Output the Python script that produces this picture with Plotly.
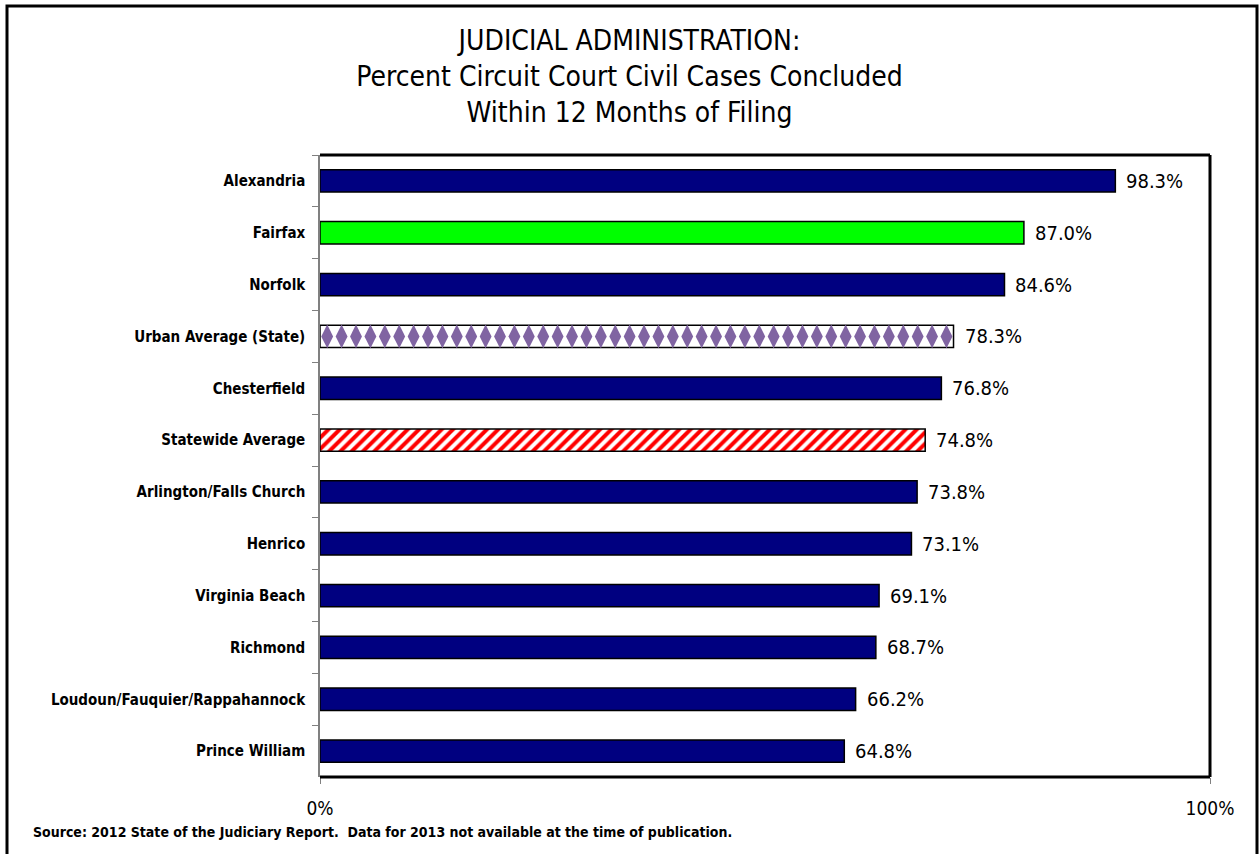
import numpy as np
import plotly.graph_objects as go

categories = ["Alexandria", "Fairfax", "Norfolk", "Urban Average (State)", "Chesterfield",
              "Statewide Average", "Arlington/Falls Church", "Henrico", "Virginia Beach",
              "Richmond", "Loudoun/Fauquier/Rappahannock", "Prince William"]
values = [98.3, 87.0, 84.6, 78.3, 76.8, 74.8, 73.8, 73.1, 69.1, 68.7, 66.2, 64.8]
value_labels = ["98.3%", "87.0%", "84.6%", "78.3%", "76.8%", "74.8%", "73.8%", "73.1%",
                "69.1%", "68.7%", "66.2%", "64.8%"]
tick_vals = [0, 110]
tick_text = ["0%", "100%"]

NAVY = "#000080"
GREEN = "#00FF00"
PURPLE = "#8064A2"
RED = "#FF0000"

FONT = "DejaVu Sans Condensed, Liberation Sans Narrow, Arial Narrow, sans-serif"
BAR_W = 0.43
OUTLINE = dict(color="black", width=1.5)

special = {"Fairfax", "Urban Average (State)", "Statewide Average"}
reg_y = [c for c in categories if c not in special]
reg_x = [v for c, v in zip(categories, values) if c not in special]

fig = go.Figure()
fig.add_trace(go.Bar(y=reg_y, x=reg_x, orientation="h", width=BAR_W,
                     marker=dict(color=NAVY, line=OUTLINE),
                     showlegend=False, hoverinfo="skip"))

fi = categories.index("Fairfax")
fig.add_trace(go.Bar(y=[categories[fi]], x=[values[fi]], orientation="h", width=BAR_W,
                     marker=dict(color=GREEN, line=OUTLINE),
                     showlegend=False, hoverinfo="skip"))

si = categories.index("Statewide Average")
fig.add_trace(go.Bar(y=[categories[si]], x=[values[si]], orientation="h", width=BAR_W,
                     marker=dict(color="white", line=OUTLINE,
                                 pattern=dict(shape="/", fgcolor=RED, bgcolor="white",
                                              fillmode="replace", size=8, solidity=0.5)),
                     showlegend=False, hoverinfo="skip"))

ui = categories.index("Urban Average (State)")
fig.add_trace(go.Bar(y=[categories[ui]], x=[values[ui]], orientation="h", width=BAR_W,
                     marker=dict(color="white", line=OUTLINE),
                     showlegend=False, hoverinfo="skip"))
# diamond fill for the urban average bar
step = 1.78
dx = np.arange(step / 2, values[ui] - step / 4, step)
fig.add_trace(go.Scatter(
    x=dx, y=[categories[ui]] * len(dx), mode="markers",
    marker=dict(symbol="diamond-tall", size=17, color=PURPLE, line=dict(width=0)),
    showlegend=False, hoverinfo="skip", cliponaxis=True,
))

for c, v, t in zip(categories, values, value_labels):
    fig.add_annotation(x=v, y=c, text=t, showarrow=False, xanchor="left", xshift=9,
                       font=dict(family=FONT, size=20, color="black"))

shapes = [
    dict(type="line", xref="paper", yref="paper", x0=0, x1=1, y0=1, y1=1,
         line=dict(color="black", width=3)),
    dict(type="line", xref="paper", yref="paper", x0=1, x1=1, y0=0, y1=1,
         line=dict(color="black", width=3)),
    dict(type="line", xref="paper", yref="paper", x0=0, x1=1, y0=0, y1=0,
         line=dict(color="black", width=3)),
    # outer frame
    dict(type="rect", xref="paper", yref="paper",
         x0=(7 - 320) / 890, x1=(1257 - 320) / 890,
         y0=(777 - 870) / 622, y1=(777 - 6) / 622,
         line=dict(color="black", width=3), fillcolor="rgba(0,0,0,0)"),
]

fig.update_layout(
    width=1259, height=854,
    margin=dict(l=320, r=49, t=155, b=77),
    paper_bgcolor="white", plot_bgcolor="white",
    title=dict(
        text="JUDICIAL ADMINISTRATION:<br>Percent Circuit Court Civil Cases Concluded<br>Within 12 Months of Filing",
        x=0.5, xanchor="center", y=0.942, yanchor="top",
        font=dict(family=FONT, size=28, color="black"),
    ),
    shapes=shapes,
    barmode="overlay",
)
fig.update_xaxes(range=[0, 110], tickvals=tick_vals, ticktext=tick_text,
                 showgrid=False, zeroline=False, ticks="outside", ticklen=6,
                 tickcolor="#808080", ticklabelstandoff=8,
                 tickfont=dict(family=FONT, size=19, color="black"),
                 showline=False)
fig.update_yaxes(categoryorder="array", categoryarray=categories, autorange="reversed",
                 showgrid=False, zeroline=False, ticks="outside", ticklen=6,
                 tickcolor="#808080", tickson="boundaries",
                 showline=True, linecolor="#808080", linewidth=1.5,
                 tickfont=dict(family=FONT, size=15, color="black", weight="bold"),
                 ticklabelstandoff=10)

fig.add_annotation(xref="paper", yref="paper", x=(31 - 320) / 890, y=(777 - 832) / 622,
                   xanchor="left", yanchor="middle", showarrow=False,
                   text="Source: 2012 State of the Judiciary Report.  Data for 2013 not available at the time of publication.",
                   font=dict(family=FONT, size=14, color="black", weight="bold"))

fig.write_html("out.html", config={"displayModeBar": False},
               post_script="document.body.style.margin='0';document.body.style.overflow='hidden';")
